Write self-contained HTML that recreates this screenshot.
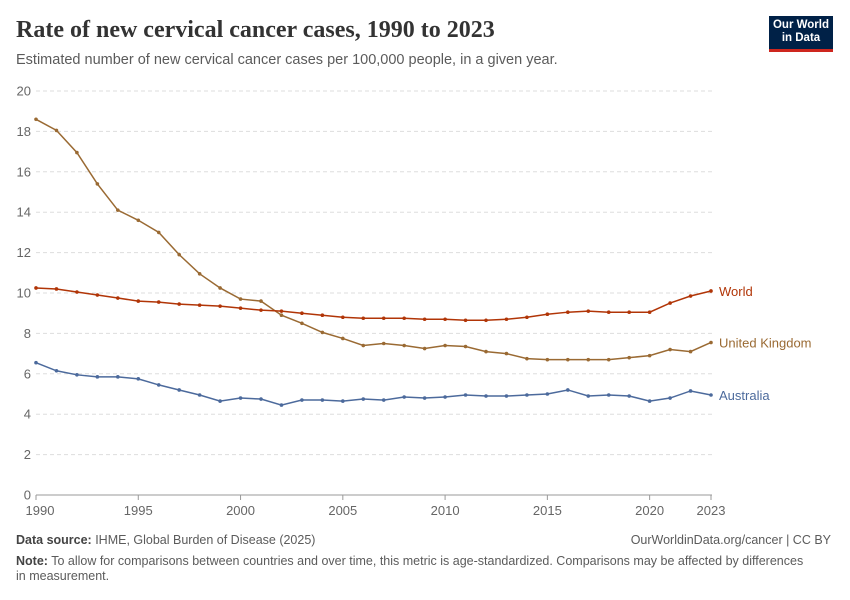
<!DOCTYPE html><html><head><meta charset="utf-8"><style>
body{margin:0;width:850px;height:600px;background:#fff;font-family:"Liberation Sans",sans-serif;position:relative;overflow:hidden}
.t{position:absolute;left:16px;top:17px;font-family:"Liberation Serif",serif;font-size:24px;font-weight:bold;color:#333}
.s{position:absolute;left:16px;top:52px;font-size:14.5px;color:#5b5b5b}
.logo{position:absolute;left:769px;top:16px;width:64px;height:36px;background:#002147;border-bottom:3px solid #ce261e;color:#fff;font-size:11.5px;font-weight:bold;text-align:center;line-height:13px;padding-top:3px;box-sizing:border-box}
.f{position:absolute;font-size:12.5px;color:#5b5b5b}
b{color:#444;font-weight:bold}
</style></head><body>
<div class="t">Rate of new cervical cancer cases, 1990 to 2023</div>
<div class="s">Estimated number of new cervical cancer cases per 100,000 people, in a given year.</div>
<div class="logo">Our World<br>in Data</div>
<svg id="c" width="850" height="600" style="position:absolute;left:0;top:0"></svg>
<div class="f" style="left:16px;top:533px"><b>Data source:</b> IHME, Global Burden of Disease (2025)</div>
<div class="f" style="right:19px;top:533px">OurWorldinData.org/cancer | CC BY</div>
<div class="f" style="left:16px;top:554px;width:790px;line-height:15px"><b>Note:</b> To allow for comparisons between countries and over time, this metric is age-standardized. Comparisons may be affected by differences in measurement.</div>
<script>
const X=y=>36+(y-1990)*675/33, Y=v=>495-v*20.2;
let s='';
for(let v=0;v<=20;v+=2){const y=Y(v);
 if(v>0)s+=`<line x1="36" x2="712" y1="${y}" y2="${y}" stroke="#ddd" stroke-dasharray="4,3"/>`;
 s+=`<text x="31" y="${y+4.5}" text-anchor="end" font-size="13" fill="#666" font-family="Liberation Sans">${v}</text>`;}
s+=`<line x1="36" x2="712" y1="495" y2="495" stroke="#999"/>`;
[1990,1995,2000,2005,2010,2015,2020,2023].forEach(y=>{const x=X(y);
 s+=`<line x1="${x}" x2="${x}" y1="495" y2="500" stroke="#999"/><text x="${y==1990?x+4:x}" y="515" text-anchor="middle" font-size="13" fill="#666" font-family="Liberation Sans">${y}</text>`;});
const D={uk:["#9a6a33",[18.6,18.05,16.95,15.4,14.1,13.6,13.0,11.9,10.95,10.25,9.7,9.6,8.9,8.5,8.05,7.75,7.4,7.5,7.4,7.25,7.4,7.35,7.1,7.0,6.75,6.7,6.7,6.7,6.7,6.8,6.9,7.2,7.1,7.55],"United Kingdom"],
w:["#b13507",[10.25,10.2,10.05,9.9,9.75,9.6,9.55,9.45,9.4,9.35,9.25,9.15,9.1,9.0,8.9,8.8,8.75,8.75,8.75,8.7,8.7,8.65,8.65,8.7,8.8,8.95,9.05,9.1,9.05,9.05,9.05,9.5,9.85,10.1],"World"],
a:["#4c6a9c",[6.55,6.15,5.95,5.85,5.85,5.75,5.45,5.2,4.95,4.65,4.8,4.75,4.45,4.7,4.7,4.65,4.75,4.7,4.85,4.8,4.85,4.95,4.9,4.9,4.95,5.0,5.2,4.9,4.95,4.9,4.65,4.8,5.15,4.95],"Australia"]};
for(const k in D){const [c,v,n]=D[k];
 s+=`<polyline fill="none" stroke="${c}" stroke-width="1.5" points="${v.map((d,i)=>X(1990+i)+','+Y(d)).join(' ')}"/>`;
 v.forEach((d,i)=>s+=`<circle cx="${X(1990+i)}" cy="${Y(d)}" r="1.8" fill="${c}"/>`);
 s+=`<text x="719" y="${Y(v[33])+5}" font-size="13" fill="${c}" font-family="Liberation Sans">${n}</text>`;}
document.getElementById('c').innerHTML=s;
</script>
</body></html>
